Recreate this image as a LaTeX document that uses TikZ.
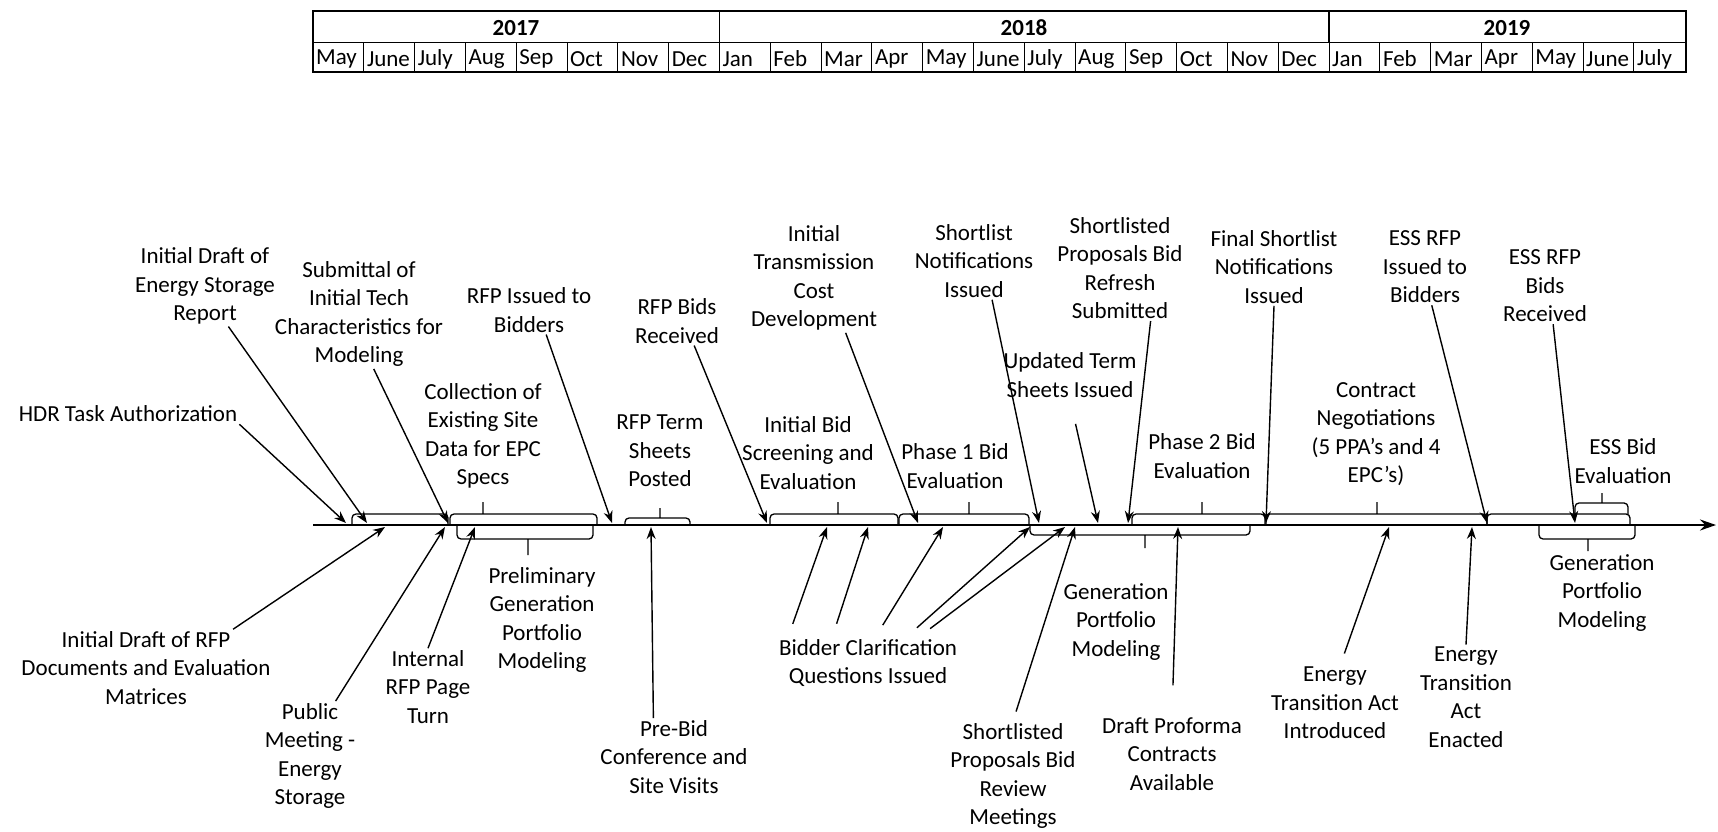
\documentclass[tikz,border=0pt]{standalone}
\usepackage{fontspec}
\setmainfont{Carlito}
\usetikzlibrary{arrows.meta}

\begin{document}
\begin{tikzpicture}[x=1pt, y=-1pt]
	\useasboundingbox (0,0) rectangle (1718,832);
	\begin{scope}
		\tikzstyle{every node}=[align=center, inner sep=2pt, font=\fontsize{23}{28.5}\selectfont]
		\tikzstyle{brk}=[line width=1.3pt, rounded corners=4pt]
		\tikzstyle{evt}=[line width=1.4pt, ->, >={Stealth[length=12pt, width=9pt]}]

		% month table
		\draw [line width=1.2pt] (313,11) rectangle (1686,72);
		\draw [line width=1pt] (313,43) -- (1686,43);
		\draw [line width=1.2pt] (719.4,11) -- (719.4,43) (1329,11) -- (1329,43);
		\node (y17) at (516,28)  {\textbf{2017}};
		\node (y18) at (1024,28) {\textbf{2018}};
		\node (y19) at (1507,28) {\textbf{2019}};
		\foreach \m [count=\i from 0] in {May,June,July,Aug,Sep,Oct,Nov,Dec,Jan,Feb,Mar,Apr,May,June,July,Aug,Sep,Oct,Nov,Dec,Jan,Feb,Mar,Apr,May,June,July}
		{
			\draw [line width=1pt] ({313+\i*50.8},43) -- ({313+\i*50.8},72);
			\node [anchor=west, inner sep=1pt] (m\i) at ({313+\i*50.8+2},59) {\m};
		}

		% time line
		\coordinate (tl0) at (313,525);
		\coordinate (tl1) at (1716,525);
		\draw [line width=2.4pt, -{Stealth[length=16pt, width=11pt]}] (tl0) -- (tl1);

		% labels above the line
		\node (hdr)  at (128, 414)  {HDR Task Authorization};
		\node (edsr) at (205, 286)  {Initial Draft of\\Energy Storage\\Report};
		\node (sub)  at (359, 314)  {Submittal of\\Initial Tech\\Characteristics for\\Modeling};
		\node (rfpi) at (529, 310)  {RFP Issued to\\Bidders};
		\node (cesd) at (483, 436)  {Collection of\\Existing Site\\Data for EPC\\Specs};
		\node (rfpb) at (677, 321)  {RFP Bids\\Received};
		\node (rtsp) at (660, 451)  {RFP Term\\Sheets\\Posted};
		\node (itcd) at (814, 278)  {Initial\\Transmission\\Cost\\Development};
		\node (ibse) at (808, 453)  {Initial Bid\\Screening and\\Evaluation};
		\node (p1be) at (955, 466)  {Phase 1 Bid\\Evaluation};
		\node (sni)  at (974, 261)  {Shortlist\\Notifications\\Issued};
		\node (spbr) at (1120, 268) {Shortlisted\\Proposals Bid\\Refresh\\Submitted};
		\node (utsi) at (1070, 375) {Updated Term\\Sheets Issued};
		\node (fsni) at (1274, 267) {Final Shortlist\\Notifications\\Issued};
		\node (p2be) at (1202, 456) {Phase 2 Bid\\Evaluation};
		\node (cneg) at (1376, 434) {Contract\\Negotiations\\(5 PPA's and 4\\EPC’s)};
		\node (essi) at (1425, 267) {ESS RFP\\Issued to\\Bidders};
		\node (essb) at (1545, 286) {ESS RFP\\Bids\\Received};
		\node (esse) at (1623, 461) {ESS Bid\\Evaluation};

		% labels below the line
		\node (idrfp) at (146, 668)  {Initial Draft of RFP\\Documents and Evaluation\\Matrices};
		\node (pmes)  at (310, 756)  {Public\\Meeting -\\Energy\\Storage};
		\node (irpt)  at (428, 687)  {Internal\\RFP Page\\Turn};
		\node (pggm)  at (542, 620)  {Preliminary\\Generation\\Portfolio\\Modeling};
		\node (pbcs)  at (674, 757)  {Pre-Bid\\Conference and\\Site Visits};
		\node (bcqi)  at (868, 663)  {Bidder Clarification\\Questions Issued};
		\node (sprm)  at (1013, 776) {Shortlisted\\Proposals Bid\\Review\\Meetings};
		\node (gpm)   at (1116, 622) {Generation\\Portfolio\\Modeling};
		\node (dpca)  at (1172, 754) {Draft Proforma\\Contracts\\Available};
		\node (etai)  at (1335, 703) {Energy\\Transition Act\\Introduced};
		\node (etae)  at (1466, 697) {Energy\\Transition\\Act\\Enacted};
		\node (gpm2)  at (1602, 593) {Generation\\Portfolio\\Modeling};

		% points on the line
		\coordinate (hdr0)  at (346, 523);
		\coordinate (edsr0) at (367, 523);
		\coordinate (sub0)  at (448, 523);
		\coordinate (rfpi0) at (612, 523);
		\coordinate (rfpb0) at (767, 523);
		\coordinate (itcd0) at (918, 523);
		\coordinate (sni0)  at (1039, 523);
		\coordinate (utsi0) at (1098, 523);
		\coordinate (spbr0) at (1128, 523);
		\coordinate (fsni0) at (1266, 523);
		\coordinate (essi0) at (1487, 523);
		\coordinate (essb0) at (1575, 523);

		\coordinate (idrfp0) at (385, 527);
		\coordinate (pmes0)  at (445, 527);
		\coordinate (irpt0)  at (475, 527);
		\coordinate (pbcs0)  at (651, 527);
		\coordinate (bc1)    at (827, 527);
		\coordinate (bc2)    at (868, 527);
		\coordinate (bc3)    at (943, 527);
		\coordinate (bc4)    at (1030, 527);
		\coordinate (bc5)    at (1065, 527);
		\coordinate (sprm0)  at (1075, 527);
		\coordinate (dpca0)  at (1178, 527);
		\coordinate (etai0)  at (1389, 527);
		\coordinate (etae0)  at (1472, 527);

		% brackets above
		\draw [brk] (352,525) |- (448,514) -- (448,525);
		\draw [brk] (450,525) |- (597,514) -- (597,525) (483,514) -- (483,502);
		\draw [brk] (625,525) |- (690,518) -- (690,525) (660,518) -- (660,508);
		\draw [brk] (770,525) |- (898,514) -- (898,525) (838,514) -- (838,502);
		\draw [brk] (899,525) |- (1029,514) -- (1029,525) (969,514) -- (969,502);
		\draw [brk] (1132,525) |- (1265,514) -- (1265,525) (1202,514) -- (1202,502);
		\draw [brk] (1266,525) |- (1487,514) -- (1487,525) (1377,514) -- (1377,502);
		\draw [brk] (1487,525) |- (1630,514) -- (1630,525);
		\draw [brk] (1575,514) |- (1628,503) -- (1628,514) (1602,503) -- (1602,493);

		% brackets below
		\draw [brk] (457,525) |- (593,539) -- (593,525) (528,539) -- (528,555);
		\draw [brk] (1030,525) |- (1250,535) -- (1250,525) (1145,535) -- (1145,548);
		\draw [brk] (1539,525) |- (1635,539) -- (1635,525) (1588,539) -- (1588,551);

		% arrows from above
		\draw [evt] (hdr.south east) to (hdr0);
		\draw [evt] (edsr.-60) to (edsr0);
		\draw [evt] (sub.-75) to (sub0);
		\draw [evt] (rfpi.-55) to (rfpi0);
		\draw [evt] (rfpb.-55) to (rfpb0);
		\draw [evt] (itcd.-60) to (itcd0);
		\draw [evt] (sni.-65) to (sni0);
		\draw [evt, shorten <=25pt] (utsi.south) to (utsi0);
		\draw [evt] (spbr.-60) to (spbr0);
		\draw [evt] (fsni.south) to (fsni0);
		\draw [evt] (essi.-80) to (essi0);
		\draw [evt] (essb.-78) to (essb0);

		% arrows from below
		\draw [evt] (idrfp.24) to (idrfp0);
		\draw [evt] (pmes.65) to (pmes0);
		\draw [evt] (irpt.north) to (irpt0);
		\draw [evt] (pbcs.118) to (pbcs0);
		\draw [evt, shorten <=14pt] (bcqi.162) to (bc1);
		\draw [evt, shorten <=14pt] (bcqi.144) to (bc2);
		\draw [evt, shorten <=14pt] (bcqi.74) to (bc3);
		\draw [evt, shorten <=14pt] (bcqi.34) to (bc4);
		\draw [evt, shorten <=14pt] (bcqi.27) to (bc5);
		\draw [evt, shorten <=10pt] (sprm.north) to (sprm0);
		\draw [evt, shorten <=30pt] (dpca.north) to (dpca0);
		\draw [evt, shorten <=12pt] (etai.82) to (etai0);
		\draw [evt] (etae.north) to (etae0);
	\end{scope}
\end{tikzpicture}
\end{document}
